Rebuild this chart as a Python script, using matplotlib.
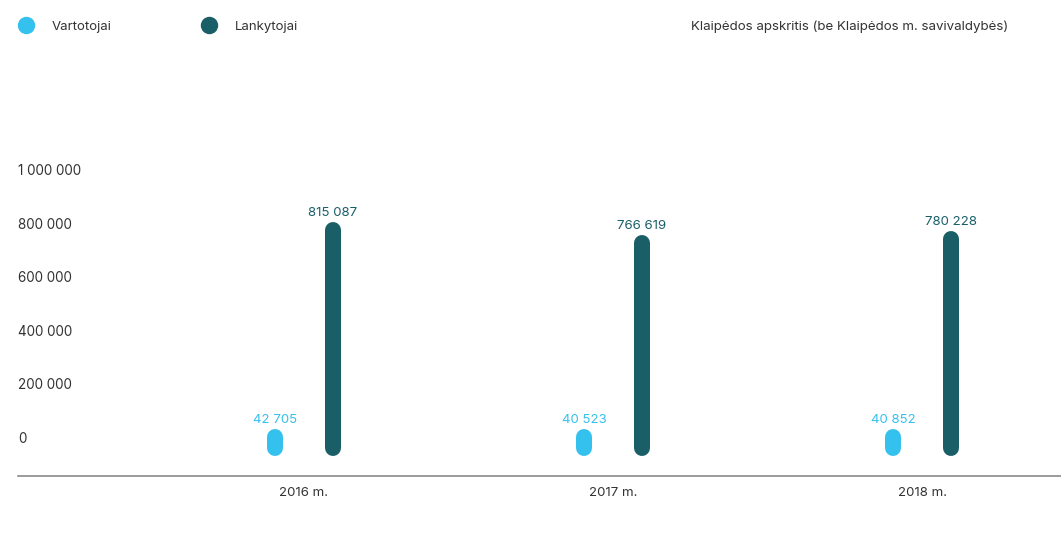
import matplotlib
matplotlib.use("Agg")
import matplotlib.pyplot as plt
import matplotlib.transforms as mtransforms
from matplotlib.lines import Line2D

plt.rcParams['font.family'] = ['Inter', 'DejaVu Sans']

years = ["2016 m.", "2017 m.", "2018 m."]
vartotojai = [42705, 40523, 40852]
lankytojai = [815087, 766619, 780228]
vart_labels = ["42 705", "40 523", "40 852"]
lank_labels = ["815 087", "766 619", "780 228"]
yticks = [0, 200000, 400000, 600000, 800000, 1000000]
ytick_labels = ["0", "200 000", "400 000", "600 000", "800 000", "1 000 000"]
series_names = ["Vartotojai", "Lankytojai"]
title = "Klaipėdos apskritis (be Klaipėdos m. savivaldybės)"

C_LIGHT = "#35C1EE"
C_DARK = "#1A5E68"
C_TEXT = "#333333"

W, H = 1061, 534
fig = plt.figure(figsize=(W / 100, H / 100), dpi=100)
ax = fig.add_axes([0, 0, 1, 1])
ax.set_axis_off()

px_per_unit_x = 309.0
x0_pix = 304.0
zero_pix_from_top = 448.0
px_per_val = 268.0 / 1e6
ax.set_xlim(-x0_pix / px_per_unit_x, (W - x0_pix) / px_per_unit_x)
bottom_pix = H - zero_pix_from_top
ax.set_ylim(-bottom_pix / px_per_val, (H - bottom_pix) / px_per_val)

off = 58 / 2 / px_per_unit_x
lw = 16 * 72 / 100
xs = list(range(len(years)))

for i in xs:
    ax.plot([i - off, i - off], [0, vartotojai[i]], color=C_LIGHT, lw=lw,
            solid_capstyle='round')
    ax.plot([i + off, i + off], [0, lankytojai[i]], color=C_DARK, lw=lw,
            solid_capstyle='round')
    ax.annotate(vart_labels[i], (i - off, vartotojai[i]), xytext=(0, 10),
                textcoords='offset points', ha='center', va='baseline',
                fontsize=9.5, color=C_LIGHT)
    ax.annotate(lank_labels[i], (i + off, lankytojai[i]), xytext=(0, 10),
                textcoords='offset points', ha='center', va='baseline',
                fontsize=9.5, color=C_DARK)

base_trans = mtransforms.blended_transform_factory(ax.transAxes, fig.transFigure)
ax.add_line(Line2D([18 / W, 1.0], [1 - 476 / H, 1 - 476 / H], transform=base_trans,
                   color="#8a8a8a", lw=1.2))

yr_trans = mtransforms.blended_transform_factory(ax.transData, fig.transFigure)
for i in xs:
    ax.text(i, 1 - 493 / H, years[i], transform=yr_trans, ha='center', va='center',
            fontsize=9.5, color=C_TEXT)

tick_trans = mtransforms.blended_transform_factory(fig.transFigure, ax.transData)
tick_trans = mtransforms.offset_copy(tick_trans, fig=fig, x=0, y=5, units='dots')
for v, lab in zip(yticks, ytick_labels):
    ax.text(18 / W, v, lab, transform=tick_trans, ha='left', va='baseline',
            fontsize=9.7, color=C_TEXT)

for (cx, tx, name, col) in [(26, 52, series_names[0], C_LIGHT),
                            (209, 235, series_names[1], C_DARK)]:
    fig.add_artist(Line2D([cx / W], [1 - 25 / H], marker='o', markersize=16 * 72 / 100,
                          color=col, linestyle='none', transform=fig.transFigure))
    fig.text(tx / W, 1 - 27 / H, name, ha='left', va='center', fontsize=9.5,
             color=C_TEXT)

fig.text(691 / W, 1 - 27 / H, title, ha='left', va='center', fontsize=9.6,
         color=C_TEXT)

fig.savefig("out.png", dpi=100)
